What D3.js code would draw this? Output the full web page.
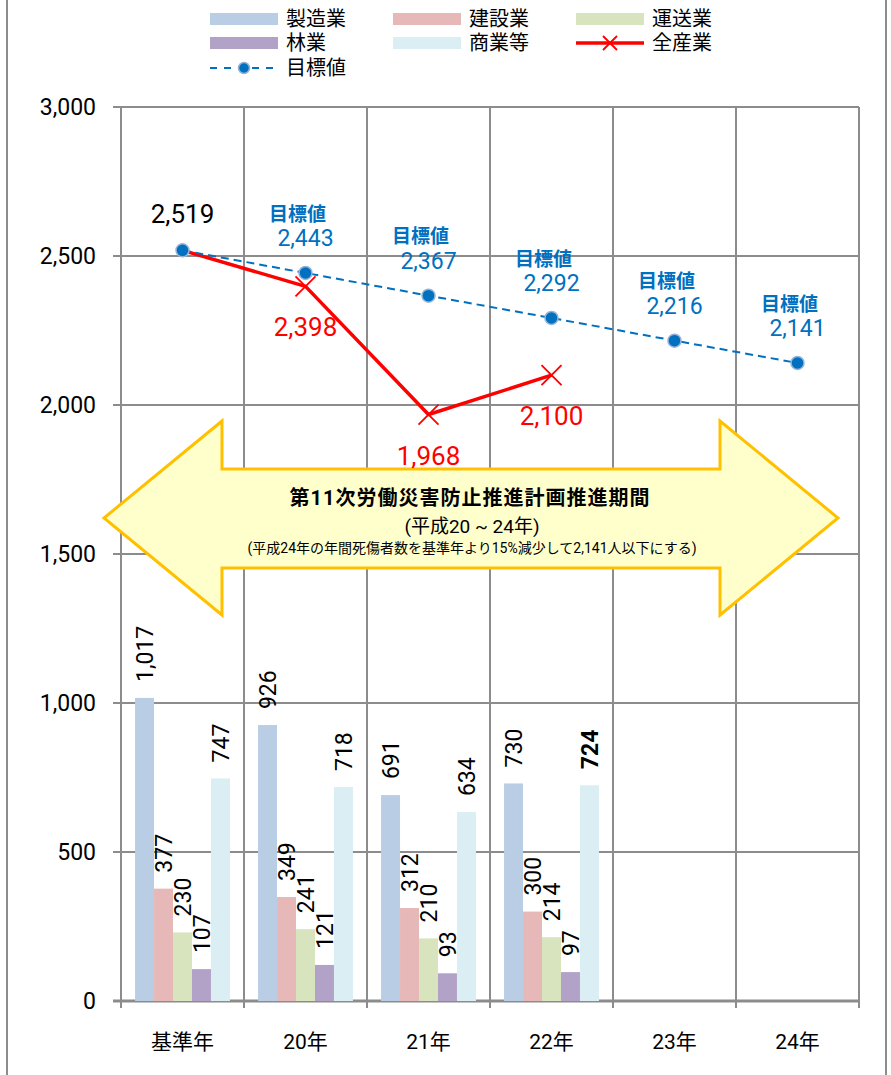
<!DOCTYPE html>
<html>
<head>
<meta charset="utf-8">
<script src="https://cdn.jsdelivr.net/npm/d3@7"></script>
<style>
  body { margin: 0; background: #fff; }
  svg { display: block; font-family: Roboto, "Noto Sans CJK JP", sans-serif; }
</style>
</head>
<body>
<div id="chart"></div>
<script>
// data
const years = ['基準年', '20年', '21年', '22年', '23年', '24年'];
const sectors = ['製造業', '建設業', '運送業', '林業', '商業等'];
const sectorColors = ['#b9cde5', '#e6b9b8', '#d7e4bd', '#b3a2c7', '#dbeef4'];
const seizo = [1017, 926, 691, 730];
const kensetsu = [377, 349, 312, 300];
const unso = [230, 241, 210, 214];
const ringyo = [107, 121, 93, 97];
const shogyo = [747, 718, 634, 724];
const zensangyo = [2519, 2398, 1968, 2100];
const mokuhyo = [2519, 2443, 2367, 2292, 2216, 2141];
const yTicks = [0, 500, 1000, 1500, 2000, 2500, 3000];

const W = 891, H = 1075;
const svg = d3.select('#chart').append('svg').attr('width', W).attr('height', H);

const x0 = d3.scaleBand().domain(years).range([121, 859]);
const x1 = d3.scaleBand().domain(sectors).range([0, x0.bandwidth()]).paddingOuter(0.74);
const y = d3.scaleLinear().domain([0, 3000]).range([1001, 107]);
const fmt = d3.format(',');
const cx = i => x0(years[i]) + x0.bandwidth() / 2;

// outer frame
svg.append('line').attr('x1', 7).attr('x2', 7).attr('y1', 0).attr('y2', H)
  .attr('stroke', '#8c8c8c').attr('stroke-width', 2);
svg.append('line').attr('x1', 886).attr('x2', 886).attr('y1', 0).attr('y2', H)
  .attr('stroke', '#8c8c8c').attr('stroke-width', 2);

// grid
const grid = svg.append('g').attr('stroke', '#8c8c8c').attr('stroke-width', 2);
grid.selectAll('.h').data(yTicks).enter().append('line')
  .attr('x1', 113).attr('x2', 859)
  .attr('y1', d => y(d)).attr('y2', d => y(d));
grid.selectAll('.v').data(d3.range(years.length + 1)).enter().append('line')
  .attr('x1', i => 121 + i * x0.step()).attr('x2', i => 121 + i * x0.step())
  .attr('y1', y(3000)).attr('y2', y(0) + 7);
grid.append('line').attr('x1', 113).attr('x2', 859).attr('y1', y(0)).attr('y2', y(0))
  .attr('stroke-width', 3);

// y axis labels
svg.append('g').selectAll('text').data(yTicks).enter().append('text')
  .attr('x', 96).attr('y', d => y(d)).attr('dy', '0.35em')
  .attr('text-anchor', 'end').attr('font-size', 23).attr('fill', '#000')
  .text(d => fmt(d));

// x axis labels
svg.append('g').selectAll('text').data(years).enter().append('text')
  .attr('x', (d, i) => cx(i)).attr('y', 1042).attr('dy', '0.35em')
  .attr('text-anchor', 'middle').attr('font-size', 21).attr('fill', '#000')
  .text(d => d);

// bars
const seriesVals = [seizo, kensetsu, unso, ringyo, shogyo];
const barData = [];
seriesVals.forEach((vals, s) => {
  vals.forEach((v, i) => barData.push({ year: years[i], sector: sectors[s], s: s, v: v }));
});
svg.append('g').selectAll('rect').data(barData).enter().append('rect')
  .attr('x', d => x0(d.year) + x1(d.sector))
  .attr('width', x1.bandwidth())
  .attr('y', d => y(d.v))
  .attr('height', d => y(0) - y(d.v))
  .attr('fill', d => sectorColors[d.s]);

svg.append('g').selectAll('text').data(barData).enter().append('text')
  .attr('transform', d => {
    const bx = x0(d.year) + x1(d.sector) + x1.bandwidth() / 2;
    return 'translate(' + bx + ',' + (y(d.v) - 16) + ') rotate(-90)';
  })
  .attr('dy', '0.35em').attr('font-size', 23).attr('fill', '#000')
  .attr('font-weight', d => (d.year === '22年' && d.sector === '商業等') ? 'bold' : 'normal')
  .text(d => fmt(d.v));

// big double arrow
const arrow = [[104, 518], [222, 421], [222, 469], [720, 469], [720, 421], [838, 518],
  [720, 615], [720, 568], [222, 568], [222, 615]];
svg.append('path').attr('d', d3.line()(arrow) + 'Z')
  .attr('fill', '#ffffcc').attr('stroke', '#ffc000').attr('stroke-width', 3)
  .attr('stroke-linejoin', 'miter');
svg.append('text').attr('x', 470).attr('y', 498).attr('dy', '0.35em')
  .attr('text-anchor', 'middle').attr('font-size', 20).attr('font-weight', 'bold')
  .attr('letter-spacing', 1)
  .text('第11次労働災害防止推進計画推進期間');
svg.append('text').attr('x', 472).attr('y', 526).attr('dy', '0.35em')
  .attr('text-anchor', 'middle').attr('font-size', 19)
  .text('(平成20 ~ 24年)');
svg.append('text').attr('x', 472).attr('y', 548).attr('dy', '0.35em')
  .attr('text-anchor', 'middle').attr('font-size', 14)
  .text('(平成24年の年間死傷者数を基準年より15%減少して2,141人以下にする)');

// 全産業 line
svg.append('path').datum(zensangyo)
  .attr('d', d3.line().x((d, i) => cx(i)).y(d => y(d)))
  .attr('fill', 'none').attr('stroke', '#ff0000').attr('stroke-width', 3.5)
  .attr('stroke-linejoin', 'round');
const xm = 10;
svg.append('g').selectAll('path').data(zensangyo.slice(1)).enter().append('path')
  .attr('d', (d, i) => {
    const px = cx(i + 1), py = y(d);
    return 'M' + (px - xm) + ',' + (py - xm) + 'L' + (px + xm) + ',' + (py + xm) +
      'M' + (px - xm) + ',' + (py + xm) + 'L' + (px + xm) + ',' + (py - xm);
  })
  .attr('stroke', '#ff0000').attr('stroke-width', 1.8);
svg.append('g').selectAll('text').data(zensangyo.slice(1)).enter().append('text')
  .attr('x', (d, i) => cx(i + 1)).attr('y', d => y(d) + 41).attr('dy', '0.35em')
  .attr('text-anchor', 'middle').attr('font-size', 26).attr('fill', '#ff0000')
  .text(d => fmt(d));

// 目標値 line
svg.append('path').datum(mokuhyo)
  .attr('d', d3.line().x((d, i) => cx(i)).y(d => y(d)))
  .attr('fill', 'none').attr('stroke', '#0070c0').attr('stroke-width', 2)
  .attr('stroke-dasharray', '8,5');
svg.append('g').selectAll('circle').data(mokuhyo).enter().append('circle')
  .attr('cx', (d, i) => cx(i)).attr('cy', d => y(d)).attr('r', 6.5)
  .attr('fill', '#0070c0').attr('stroke', '#95b3d7').attr('stroke-width', 1.5);
const tgt = svg.append('g').selectAll('g').data(mokuhyo.slice(1)).enter().append('g');
tgt.append('text')
  .attr('x', (d, i) => cx(i + 1) - 8).attr('y', d => y(d) - 59).attr('dy', '0.35em')
  .attr('text-anchor', 'middle').attr('font-size', 19).attr('font-weight', 'bold')
  .attr('fill', '#0070c0').text('目標値');
tgt.append('text')
  .attr('x', (d, i) => cx(i + 1)).attr('y', d => y(d) - 35).attr('dy', '0.35em')
  .attr('text-anchor', 'middle').attr('font-size', 23)
  .attr('fill', '#0070c0').text(d => fmt(d));

svg.append('text').attr('x', cx(0)).attr('y', y(zensangyo[0]) - 36).attr('dy', '0.35em')
  .attr('text-anchor', 'middle').attr('font-size', 26).attr('fill', '#000')
  .text(fmt(zensangyo[0]));

// legend
const legend = svg.append('g').attr('font-size', 20);
const legItems = [
  { name: sectors[0], type: 'box', c: sectorColors[0], x: 210, y: 19 },
  { name: sectors[1], type: 'box', c: sectorColors[1], x: 393, y: 19 },
  { name: sectors[2], type: 'box', c: sectorColors[2], x: 576, y: 19 },
  { name: sectors[3], type: 'box', c: sectorColors[3], x: 210, y: 43 },
  { name: sectors[4], type: 'box', c: sectorColors[4], x: 393, y: 43 },
  { name: '全産業', type: 'red', x: 576, y: 43 },
  { name: '目標値', type: 'blue', x: 210, y: 68 }
];
legItems.forEach(d => {
  const g = legend.append('g').attr('transform', 'translate(' + d.x + ',' + d.y + ')');
  if (d.type === 'box') {
    g.append('rect').attr('x', 0).attr('y', -6).attr('width', 68).attr('height', 12).attr('fill', d.c);
  } else if (d.type === 'red') {
    g.append('line').attr('x1', 0).attr('x2', 68).attr('stroke', '#ff0000').attr('stroke-width', 3.5);
    g.append('path').attr('d', 'M27,-7L41,7M27,7L41,-7').attr('stroke', '#ff0000').attr('stroke-width', 1.8);
  } else {
    g.append('line').attr('x1', 0).attr('x2', 68).attr('stroke', '#0070c0').attr('stroke-width', 2)
      .attr('stroke-dasharray', '7,7');
    g.append('circle').attr('cx', 34).attr('r', 5.5).attr('fill', '#0070c0')
      .attr('stroke', '#95b3d7').attr('stroke-width', 1.5);
  }
  g.append('text').attr('x', 76).attr('dy', '0.35em').attr('fill', '#000').text(d.name);
});
</script>
</body>
</html>
